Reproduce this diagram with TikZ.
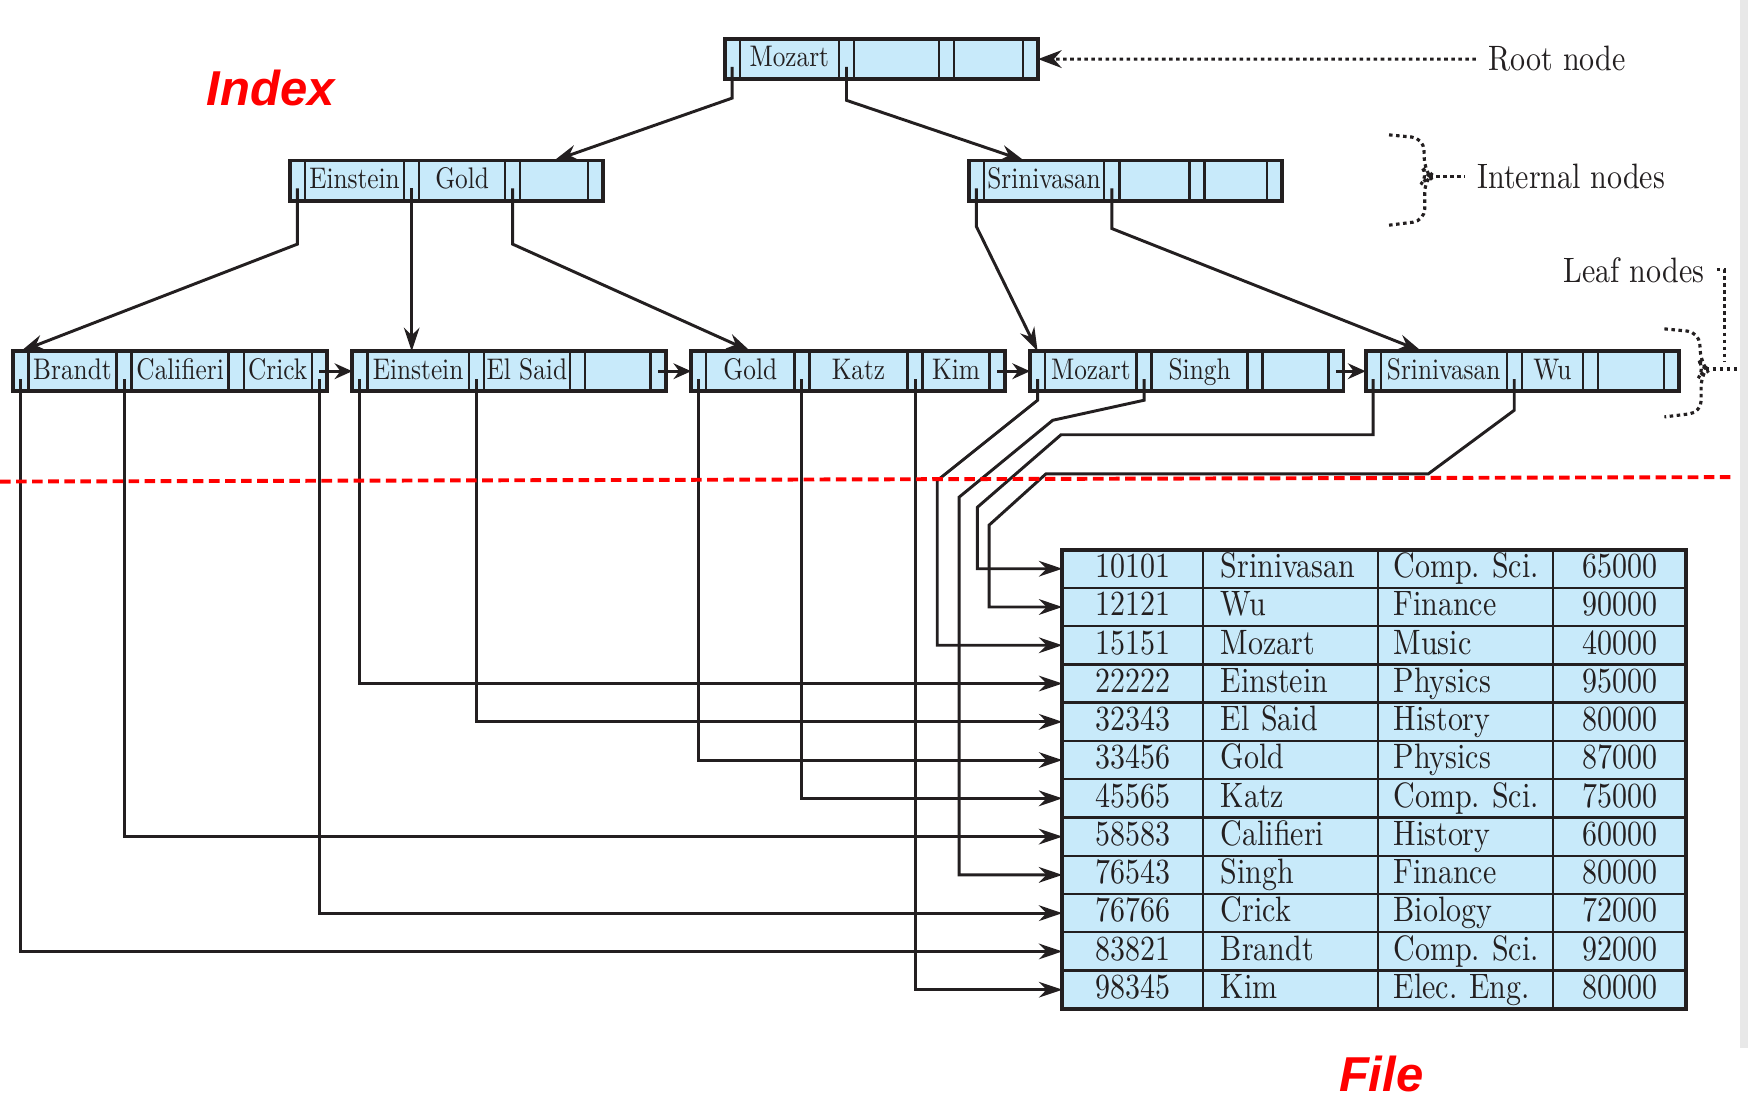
\documentclass[tikz,border=0pt]{standalone}
\usepackage{fontspec}
\setmainfont{lmroman10-regular.otf}[FakeStretch=0.85]
\newfontfamily\tagfont{Liberation Sans}
\usetikzlibrary{
  positioning,
  calc,
  arrows.meta
}
\definecolor{cellfill}{HTML}{C8EAFA}
\definecolor{inkdark}{HTML}{231F20}
\definecolor{tagred}{HTML}{FF0000}

% one B+-tree node: pointer, key, pointer, key, pointer, key, pointer
\newcommand{\bpnode}[8]{%
  \node[ptrcell, anchor=north west] (#1p1) at (#2) {};
  \node[keycell, minimum width=#3cm, right=0pt of #1p1] (#1k1) {#6};
  \node[ptrcell, right=0pt of #1k1] (#1p2) {};
  \node[keycell, minimum width=#4cm, right=0pt of #1p2] (#1k2) {#7};
  \node[ptrcell, right=0pt of #1k2] (#1p3) {};
  \node[keycell, minimum width=#5cm, right=0pt of #1p3] (#1k3) {#8};
  \node[ptrcell, right=0pt of #1k3] (#1p4) {};
  \draw[nodeframe] (#1p1.north west) rectangle (#1p4.south east);
}

\begin{document}
\begin{tikzpicture}[
    x=0.01cm, y=-0.01cm,
    ptrcell/.style={draw=inkdark, fill=cellfill, line width=0.6pt,
                    minimum width=0.135cm, minimum height=0.36cm,
                    inner sep=0pt, outer sep=0pt},
    keycell/.style={ptrcell, font=\fontsize{7.6}{9}\selectfont, text=inkdark,
                    text height=5.6pt, text depth=1.6pt},
    nodeframe/.style={draw=inkdark, line width=1pt},
    idcell/.style={draw=inkdark, fill=cellfill, line width=0.6pt,
                   minimum width=1.26cm, minimum height=0.3433cm,
                   inner sep=0pt, outer sep=0pt, text=inkdark,
                   font=\fontsize{9}{10}\selectfont\frenchspacing,
                   text height=6.5pt, text depth=2pt},
    namecell/.style={idcell, minimum width=0pt, text width=1.25cm,
                     inner xsep=0.16cm, align=left},
    deptcell/.style={idcell, minimum width=0pt, text width=1.29cm,
                     inner xsep=0.14cm, align=left},
    salcell/.style={idcell, minimum width=1.19cm},
    link/.style={draw=inkdark, line width=0.75pt,
                 -{Stealth[length=6pt, width=4pt]}},
    nextlink/.style={link, -{Stealth[length=4.5pt, width=4pt]}},
    annot/.style={draw=inkdark, line width=0.8pt, dash pattern=on 0.9pt off 0.9pt},
    annotbrace/.style={annot, rounded corners=3pt},
    annotlbl/.style={font=\fontsize{9}{11}\selectfont, text=inkdark, inner sep=3pt},
    tag/.style={font=\tagfont\bfseries\itshape\fontsize{12.5}{14}\selectfont,
                text=tagred},
    cutline/.style={draw=tagred, line width=1pt, dash pattern=on 2.7pt off 1.4pt}
  ]
  \useasboundingbox (0,0) rectangle (1568,989);
  \fill[black!9] (1561,0) rectangle (1568,940);

  % index
  \bpnode{root}{650,35}{0.89}{0.76}{0.62}{Mozart}{}{}
  \bpnode{inta}{260,144}{0.89}{0.77}{0.61}{Einstein}{Gold}{}
  \bpnode{intb}{869,144}{1.08}{0.63}{0.56}{Srinivasan}{}{}
  \bpnode{lfa}{12,315}{0.79}{0.87}{0.61}{Brandt}{Califieri}{Crick}
  \bpnode{lfb}{316,315}{0.91}{0.77}{0.59}{Einstein}{El Said}{}
  \bpnode{lfc}{620,315}{0.79}{0.88}{0.60}{Gold}{Katz}{Kim}
  \bpnode{lfd}{924,315}{0.82}{0.86}{0.59}{Mozart}{Singh}{}
  \bpnode{lfe}{1225,315}{1.13}{0.55}{0.59}{Srinivasan}{Wu}{}

  \draw[link] ([yshift=-2pt]rootp1.center) -- (rootp1.south) -- ++(0,17) -- (intak3.north);
  \draw[link] ([yshift=-2pt]rootp2.center) -- (rootp2.south) -- ++(0,19) -- ([xshift=-0.18cm]intbk1.north);
  \draw[link] ([yshift=-2pt]intap1.center) -- (intap1.south) -- ++(0,39) -- (lfap1.north);
  \draw[link] ([yshift=-2pt]intap2.center) -- (intap2 |- lfbk1.north);
  \draw[link] ([yshift=-2pt]intap3.center) -- (intap3.south) -- ++(0,39) -- (lfck1.north);
  \draw[link] ([yshift=-2pt]intbp1.center) -- (intbp1.south) -- ++(0,23) -- (lfdp1.north);
  \draw[link] ([yshift=-2pt]intbp2.center) -- (intbp2.south) -- ++(0,25) -- ([xshift=-0.2cm]lfek1.north);

  \draw[nextlink] (lfap4.center) -- (lfbp1.west);
  \draw[nextlink] (lfbp4.center) -- (lfcp1.west);
  \draw[nextlink] (lfcp4.center) -- (lfdp1.west);
  \draw[nextlink] (lfdp4.center) -- (lfep1.west);

  % file
  \foreach \rid/\rname/\rdept/\rsal [count=\r] in {
      10101/Srinivasan/Comp. Sci./65000, 12121/Wu/Finance/90000,
      15151/Mozart/Music/40000, 22222/Einstein/Physics/95000,
      32343/El Said/History/80000, 33456/Gold/Physics/87000,
      45565/Katz/Comp. Sci./75000, 58583/Califieri/History/60000,
      76543/Singh/Finance/80000, 76766/Crick/Biology/72000,
      83821/Brandt/Comp. Sci./92000, 98345/Kim/Elec. Eng./80000}{
    \node[idcell, anchor=north west] (id\r) at (953,{493+34.33*(\r-1)}) {\rid};
    \node[namecell, right=0pt of id\r] (nm\r) {\mbox{\rname}};
    \node[deptcell, right=0pt of nm\r] (dp\r) {\mbox{\rdept}};
    \node[salcell, right=0pt of dp\r] (sl\r) {\rsal};
  }
  \draw[nodeframe] (id1.north west) rectangle (sl12.south east);

  \draw[link] ([yshift=-2pt]lfap1.center) |- (id11.west);
  \draw[link] ([yshift=-2pt]lfap2.center) |- (id8.west);
  \draw[link] ([yshift=-2pt]lfap4.center) |- (id10.west);
  \draw[link] ([yshift=-2pt]lfbp1.center) |- (id4.west);
  \draw[link] ([yshift=-2pt]lfbp2.center) |- (id5.west);
  \draw[link] ([yshift=-2pt]lfcp1.center) |- (id6.west);
  \draw[link] ([yshift=-2pt]lfcp2.center) |- (id7.west);
  \draw[link] ([yshift=-2pt]lfcp3.center) |- (id12.west);
  \draw[link] ([yshift=-2pt]lfdp1.center) -- (lfdp1.south) -- ++(0,8) -- ++(-90,72) |- (id3.west);
  \draw[link] ([yshift=-2pt]lfdp2.center) -- (lfdp2.south) -- ++(0,8) -- ++(-82,18) -- ++(-84,69) |- (id9.west);
  \draw[link] ([yshift=-2pt]lfep1.center) -- (lfep1.south) -- ++(0,39) -- ++(-280,0) -- ++(-75,65) |- (id1.west);
  \draw[link] ([yshift=-2pt]lfep2.center) -- (lfep2.south) -- ++(0,17) -- ++(-77,57) -- ++(-343,0) -- ++(-51,46) |- (id2.west);

  % cut between index and file
  \coordinate (cutl) at (0,432);
  \coordinate (cutr) at (1557,428);
  \draw[cutline] (cutl) -- (cutr);

  \node[tag] (idxlbl) at (243,79) {Index};
  \node[tag] (filelbl) at (1239,963) {File};

  % annotations
  \node[annotlbl, anchor=west] (rootlbl) at (1324,53) {Root node};
  \draw[annot, -{Stealth[length=6pt, width=4.5pt]}] (rootlbl.west) -- (rootp4.east);

  \coordinate (inttip) at (1282,158);
  \draw[annotbrace] (1246,121) -- (1277,124) -- (1278,153) -- (inttip)
                    -- (1278,162) -- (1278,198) -- (1246,202);
  \node[annotlbl, anchor=west] (intlbl) at (1314,158) {Internal nodes};
  \draw[annot] (inttip) -- (intlbl.west);

  \coordinate (leaftip) at (1530,331);
  \coordinate (leafend) at (1558,331);
  \coordinate (leafdrop) at (1547,324);
  \draw[annotbrace] (1493,295) -- (1524,298) -- (1526,326) -- (leaftip)
                    -- (1526,336) -- (1526,370) -- (1493,374);
  \draw[annot] (leaftip) -- (leafend);
  \node[annotlbl, anchor=east] (leaflbl) at (1540,242) {Leaf nodes};
  \draw[annot] (leaflbl.east) -| (leafdrop);
\end{tikzpicture}
\end{document}
